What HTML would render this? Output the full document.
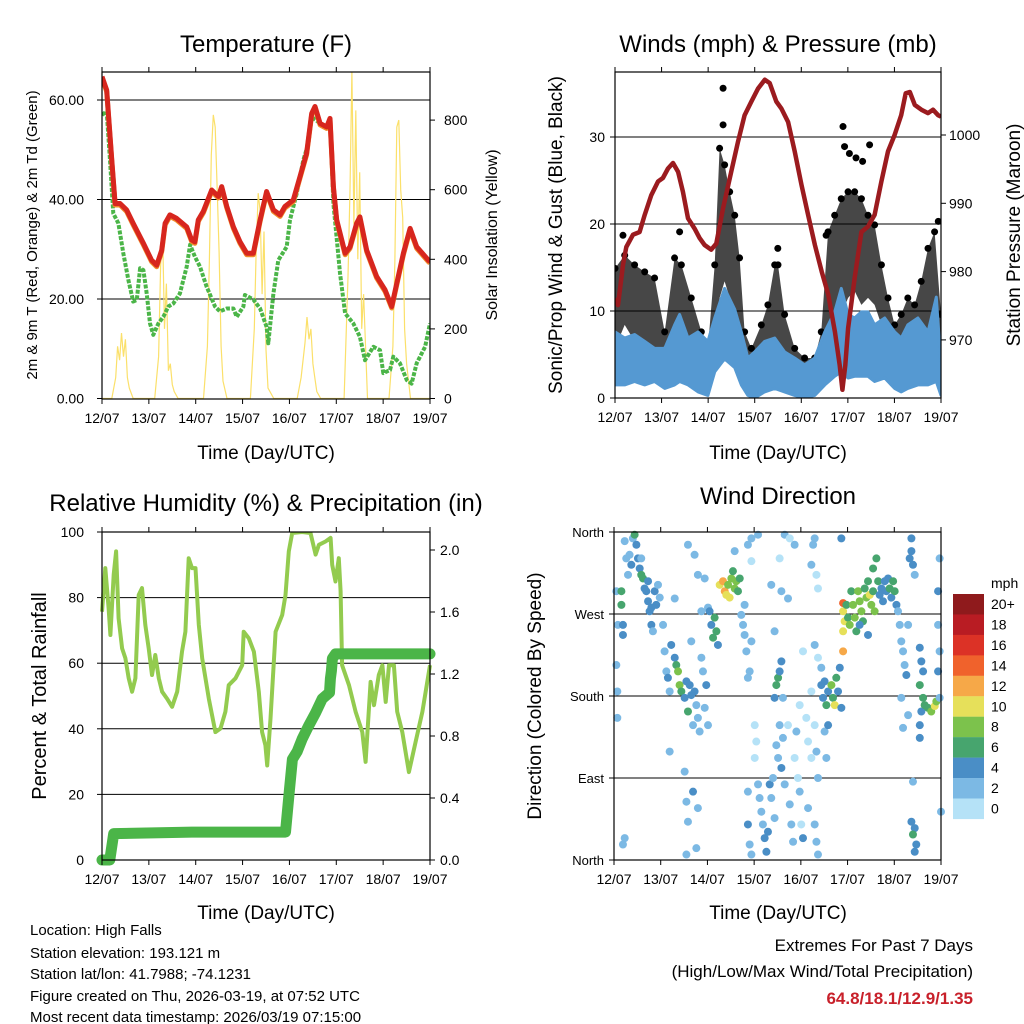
<!DOCTYPE html>
<html><head><meta charset="utf-8"><style>
html,body{margin:0;padding:0;background:#fff;}
svg{display:block;font-family:"Liberation Sans",Arial,sans-serif;}
</style></head><body>
<svg id="chart" width="1024" height="1024" viewBox="0 0 1024 1024" xmlns="http://www.w3.org/2000/svg">
<rect x="0" y="0" width="1024" height="1024" fill="#fff"/>
<text x="266" y="52" font-size="24" text-anchor="middle">Temperature (F)</text>
<text x="778" y="52" font-size="24" text-anchor="middle">Winds (mph) &amp; Pressure (mb)</text>
<text x="266" y="511" font-size="24" text-anchor="middle">Relative Humidity (%) &amp; Precipitation (in)</text>
<text x="778" y="504" font-size="24" text-anchor="middle">Wind Direction</text>
<text x="266" y="459" font-size="19" text-anchor="middle">Time (Day/UTC)</text>
<text x="778" y="459" font-size="19" text-anchor="middle">Time (Day/UTC)</text>
<text x="266" y="919" font-size="19" text-anchor="middle">Time (Day/UTC)</text>
<text x="778" y="919" font-size="19" text-anchor="middle">Time (Day/UTC)</text>
<text transform="translate(37,235) rotate(-90)" font-size="15" text-anchor="middle">2m &amp; 9m T (Red, Orange) &amp; 2m Td (Green)</text>
<text transform="translate(497,235) rotate(-90)" font-size="16" text-anchor="middle">Solar Insolation (Yellow)</text>
<text transform="translate(562,235) rotate(-90)" font-size="19" text-anchor="middle">Sonic/Prop Wind &amp; Gust (Blue, Black)</text>
<text transform="translate(1020,235) rotate(-90)" font-size="19" text-anchor="middle">Station Pressure (Maroon)</text>
<text transform="translate(46,696) rotate(-90)" font-size="20" text-anchor="middle">Percent &amp; Total Rainfall</text>
<text transform="translate(541,696) rotate(-90)" font-size="19" text-anchor="middle">Direction (Colored By Speed)</text>
<g font-size="15">
<text x="30" y="935">Location: High Falls</text>
<text x="30" y="958">Station elevation: 193.121 m</text>
<text x="30" y="979">Station lat/lon: 41.7988; -74.1231</text>
<text x="30" y="1001">Figure created on Thu, 2026-03-19, at 07:52 UTC</text>
<text x="30" y="1022">Most recent data timestamp: 2026/03/19 07:15:00</text>
</g>
<text x="973" y="951" font-size="17" text-anchor="end">Extremes For Past 7 Days</text>
<text x="973" y="977" font-size="17" text-anchor="end">(High/Low/Max Wind/Total Precipitation)</text>
<text x="973" y="1004" font-size="17" font-weight="bold" fill="#c8202a" text-anchor="end">64.8/18.1/12.9/1.35</text>
</svg>
<script>
// ---------- data ----------
const dayLabels = ["12/07","13/07","14/07","15/07","16/07","17/07","18/07","19/07"];
const tempHours = [0,2.4,5,6.7,9.2,12.6,16,21.2,25.4,28,30.6,32.3,34.8,38.2,43.4,45.9,47.6,49.3,51.9,56.2,59.6,61.3,63.9,67.3,70.7,74.1,77.5,81,84.3,87.8,91.2,93.7,98,101.4,104.8,107.4,109.1,111.7,115.1,116.8,118.5,120.2,124.5,127,130.4,132.1,135.6,140.7,145,148.4,151,154.4,157.8,161.2,167.2,168];
const tempValues = [64.7,62,47.9,39.2,39.2,37.9,35.2,31.2,27.8,26.8,29.8,35.2,36.9,36.2,34.5,31.9,31.5,35.9,37.6,41.9,40.6,42.6,38.6,34.5,31.5,29.2,29.2,35.9,41.6,37.9,36.9,38.6,39.9,44.6,49.3,57.3,58.7,55.3,54.6,56.3,42.6,35.9,29.2,30.5,35.2,36.5,29.8,24.5,21.8,18.5,23.2,29.2,34.2,30.5,27.8,27.5];
const dewHours = [0,2.4,4.1,5.8,8.4,10.9,13.5,16,17.8,19.5,21.2,22.9,24.6,26.3,28.9,31.4,34,36.5,39.9,43.4,45.1,47.6,50.2,53.6,57.9,60.4,63.9,67.3,69,72.4,73.2,77.5,81,84.3,85.2,87.8,90.3,94.6,96.3,99.7,103.1,105.7,107.4,111.7,115.1,116.8,118.5,121.9,124.5,128.7,132.1,134.7,139,142.4,144.1,147.5,149.2,152.6,156.1,158.6,161.2,165.5,168];
const dewValues = [57,57.7,47.9,37.2,35.2,29.2,23.8,19.5,19.8,26.2,25.8,21.1,15.1,12.8,15.1,16.4,18.5,19.1,21.1,26.5,30.9,28.5,26.5,22.5,18.5,17.5,18.1,18.1,16.4,18.5,20.8,19.9,18.1,14.4,11.1,21.1,27.8,30.5,35.9,41.2,47.9,51.3,56.6,55.3,54.3,56.3,39.2,25.2,17.1,15.1,12.4,7.7,10.4,9.7,5.1,5.7,8.4,7.1,3.7,3,7.1,10.4,15.1];
const solarHours = [0,5,7,8,9,10,11,12,13,14,16,27,29,30,31,32,33,34,35,36,37,39,52,54,55,56,57,58,59,60,61,62,64,76,78,79,80,81,82,83,84,85,88,100,102,104,105,106,107,108,109,110,112,124,126,127,128,129,130,131,132,133,134,136,147,149,150,151,152,153,154,155,156,158,168];
const solarValues = [0,0,60,150,110,188,120,170,60,30,0,0,120,380,493,200,330,80,100,40,20,0,0,150,400,700,815,780,600,420,150,50,0,0,200,430,590,540,300,480,140,30,0,0,60,160,234,170,200,100,60,20,0,0,350,600,940,500,828,400,650,200,300,0,0,150,400,780,800,600,520,200,100,0,0];
const presHours = [0,1.55,4.1,5.8,9.3,12.7,15.3,18.7,22.2,24.7,27.3,29.9,32.5,35,37.6,41,43.6,46.2,49.6,52.2,55.7,59.9,63.4,66.8,70.3,73.7,77.2,79.7,83.1,85.7,89.2,92.6,96.1,99.5,103,106.5,109.9,113.3,115.8,117.2,118.7,120.1,123.5,127,130.4,133.8,137.3,140.7,144.1,147.5,149.8,151.9,154.5,157.9,161.3,163.9,166.5,168];
const presValues = [976.1,975.1,981,983.6,985.4,985.8,988.3,991.2,993.2,993.7,995.1,995.9,994.6,991.7,987.8,986.3,984.9,983.9,983.2,984.1,989.3,994.6,999,1002.9,1004.9,1006.8,1008.1,1007.6,1004.9,1003.9,1001.9,997.6,992.7,988.3,983.9,980,976.6,971.2,966.3,962.7,966.3,971.7,979,985.8,986.6,988.3,993.2,997.6,1000,1002.9,1006.1,1006.3,1004.4,1003.7,1003.2,1003.7,1002.9,1002.7];
const windHours = [0,5,10.1,15.3,20.4,25.6,30.7,33.3,37.6,42.8,47.9,51.4,56.5,61.7,65.1,68.5,72,77.1,82.3,87.4,92.6,97.7,102.9,108.1,113.2,116.6,120.1,123.5,127,130.4,133.8,139,144.1,147.5,150.9,156.1,161.3,165.6,168];
const windHigh = [7.6,6.9,7.3,6.5,5.7,5.7,8.4,9.6,6.9,7.6,6.5,9.2,12.6,10.2,7.6,4.6,5.3,6.5,6.9,5.3,4.6,3.8,4.6,7.6,9.9,12.6,9.6,9.2,9.9,9.9,8.4,9.2,7.6,6.9,8.4,9.2,7.6,11.6,3.8];
const windLow = [1.5,1.5,1.9,1.5,1.9,1.1,1.5,1.9,1.5,0.7,0.3,3,4.5,3.5,1.5,0.3,0,0.7,1.1,0.7,0.3,0,0.3,1.5,2.5,3,2.3,2.5,2.5,2.5,1.9,2.3,1.1,0.7,1.1,1.5,1.5,1.9,0.3];
const gustHours = [0,5,10.1,15.3,20.4,25.6,30.7,34.2,39.3,44.5,47.9,51.4,53.9,56.5,59.1,61.7,64.2,66.8,70.3,75.4,78.8,82.3,84,87.4,92.6,97.7,102.9,106.3,109.8,113.2,116.6,120.1,123.5,127,130.4,133.8,137.3,140.7,144.1,147.5,150.9,154.4,157.8,161.3,164.7,168];
const gustHigh = [14.9,16.4,15.3,14.5,13.8,7.6,16.1,15.3,11.5,7.6,5.7,15.3,28.7,26.8,23.7,21,16.1,7.6,5.7,8.4,10.7,15.3,15.3,9.6,5.7,4.6,4.6,7.6,19.1,21,22.9,23.7,23.7,22.9,21,19.9,15.3,11.5,8.4,9.6,11.5,10.7,13.4,17.2,19.1,9.6];
const gustLow = [5.7,8.4,6.5,5,4.6,6,5.3,5.7,5.3,4.6,3.8,7.6,11.5,13.4,11.5,7.6,5.7,3.8,1.9,3.8,5.7,6.5,5.7,4.6,2.7,1.9,1.9,3.8,8.4,8.4,9.6,11.5,12.3,10.7,11.5,10.7,8.4,6.9,4.6,5,5.7,5,5.7,7.6,9.6,3.8];
const gustOutHours = [55.7,55.7,117.5,118.3,131.2,120.8,124.2,127.6,4.1,33.3,83.9,108.8,166.6];
const gustOutValues = [35.6,31.4,31.2,28.9,29.1,28.1,27.6,27.2,18.7,19.1,17.2,18.7,20.3];
const rhHours = [0,1.7,3.4,4.3,6,7.2,8.5,10.3,12,13.7,15.4,17.1,18.8,20.5,22.2,23.9,25.6,27.3,29.1,30.8,33.3,35.9,38.5,41,42.7,44.4,46.1,47.9,49.6,51.3,54.7,58.1,60.7,63.2,64.9,68.4,71.8,72.6,75.2,77.8,80.3,82,83.7,84.6,86.3,88.9,92.3,94,95.7,97.4,102.5,106.8,109.4,111.1,114.5,117.1,117.9,119.6,121.3,122.2,123,126.5,129.9,133.3,135,137.6,139.3,141.8,143.6,145.3,147,149.5,151.2,153.8,157.2,160.6,164.1,168];
const rhValues = [75.7,89,76.8,68.6,87,94.1,73.7,64.5,61.5,55.4,51.3,55.4,80.8,82.9,71.7,64.5,56.4,62.5,55.4,51.3,49.2,46.7,51.3,63.5,69.6,92,89,89,71.7,61.5,49.2,39,40.1,45.2,53.3,55.4,59.4,69.6,67.6,63.5,51.3,39,35,28.8,43.1,69.6,74.7,80.8,94.1,99.7,100,99.7,93.1,96.1,97.1,98.2,90,84.9,92,81.9,59.4,53.3,45.2,39,29.9,54.3,47.2,56.4,59.4,48.2,59.4,59.4,45.2,39,26.8,36,45.2,59.4];
const precipHours = [0,4,6,46,94,96,97.5,100,102.5,106,109.4,112.8,116.5,117,117.5,118,119.6,168];
const precipValues = [0,0,0.17,0.18,0.18,0.45,0.65,0.7,0.78,0.87,0.95,1.04,1.08,1.17,1.22,1.3,1.33,1.33];
const dirHours = [1.2,2,1.2,1.7,1.7,3.8,3.8,4.6,4.6,5.5,6.3,7.2,8,8.9,9.7,10.6,11.5,12.3,13.2,14,14.9,15.7,16.6,17.5,18.3,19.2,20,20.9,21.7,22.6,23.5,4.6,5.5,19.2,17.5,14,
25.2,26,26.9,27.7,28.6,29.4,31.2,32,32.9,33.7,34.6,36.3,37.2,38,38.9,39.7,40.6,41.4,42.3,43.1,44,44.9,45.7,46.6,47.4,48.3,28.6,36.3,37.2,38,40.6,43.1,42.3,31.2,38,41.4,43.1,46.6,44.9,48.3,39.7,37.2,
49.1,50,50.9,51.7,52.6,53.4,54.3,56,56.9,57.7,58.6,59.4,60.3,61.1,62,62.8,63.7,64.6,65.4,66.3,67.1,68,68.8,69.7,70.6,68.8,70.6,67.1,72.3,73.1,72.3,70.6,62,
68.8,68.8,69.7,70.6,74,74.8,75.7,76.5,77.4,78.3,79.1,80,80.8,81.7,82.5,83.4,84.3,85.1,86,86.8,87.7,89.4,90.3,91.1,92,92.8,93.7,94.5,95.4,96.2,97.1,82.5,83.4,84.3,85.1,86,86.8,87.7,90.3,92.8,82.5,86,89.4,85.1,80.8,74,
99.7,101.4,98.8,103.1,104,104.8,99.7,103.1,104,104.8,106.5,107.4,108.2,109.1,110,111.7,112.5,113.4,114.2,115.1,116,116.8,108.2,110,109.1,106.5,102.3,103.1,104,104.8,101.4,103.1,104.8,101.4,95.4,97.1,
117.7,117.7,118.5,117.7,119.4,120.2,121.1,121.9,122.8,123.7,124.5,125.4,126.2,127.1,127.9,128.8,129.7,130.5,131.4,132.2,133.1,133.9,134.8,133.1,135.7,136.5,137.4,138.2,139.1,139.9,140.8,141.6,142.5,143.4,144.2,145.1,116.8,117.7,130.5,126.2,
145.9,146.8,147.6,148.5,149.3,150.2,151.1,151.9,152.8,153.6,154.5,152.8,147.6,148.5,151.1,157.1,157.9,158.8,157.1,158.8,157.9,159.6,161.3,163,164.8,165.6,157.1,157.1,153.6,152.8,154.5,153.6,155.3,154.5,166.5,166.5,167.3,167.3,166.5,167.3,168];
const dirValues = [295,258,214,185,156,295,280,258,247,350,331,313,335,324,353,357,346,331,320,313,309,298,295,284,273,258,251,295,280,302,288,17,24,277,306,331,
258,229,207,200,185,236,222,214,207,192,185,178,196,163,192,181,148,185,170,156,141,222,207,167,192,148,119,97,64,42,75,57,13,287,346,335,313,309,273,277,240,6,
273,258,244,266,251,236,302,306,295,291,302,288,309,317,298,306,295,309,269,258,247,229,200,207,240,346,328,280,148,130,112,353,339,
75,39,17,6,83,68,53,39,24,9,31,83,68,90,46,126,112,148,101,134,83,148,61,39,20,112,141,90,75,39,24,178,192,200,207,218,178,357,353,346,251,295,287,331,302,357,
130,112,156,148,119,90,57,39,20,6,192,178,196,170,185,192,178,170,200,185,211,167,141,148,112,211,346,353,313,298,324,236,222,185,170,229,
282,273,262,251,280,266,258,295,280,266,251,295,284,273,262,298,288,306,291,280,295,273,331,320,306,291,298,284,306,295,309,298,288,306,295,280,353,229,247,258,
273,258,240,229,214,203,258,331,339,324,313,353,178,145,159,233,218,207,192,178,163,170,167,163,169,174,148,134,86,42,35,28,17,9,295,258,331,229,207,178,53];
const dirSpeeds = [3,2,3,2,2,6,6,4,5,3,2,2,3,4,3,6,4,5,5,7,6,4,4,4,4,4,3,4,4,3,3,3,2,4,4,2,
3,3,3,4,2,4,4,7,8,8,7,4,4,6,4,4,3,4,3,2,2,2,3,3,4,3,2,3,2,2,4,2,2,2,2,3,2,3,2,3,3,3,
5,4,6,6,7,5,10,13,12,10,9,10,8,7,9,8,7,6,3,2,3,3,2,3,2,2,1,3,1,1,1,2,2,
3,4,3,2,3,3,2,3,4,5,4,4,3,2,3,3,3,2,4,2,2,1,2,2,3,1,2,1,2,1,4,4,6,6,4,4,3,2,1,2,2,2,2,1,2,2,
1,1,1,1,2,2,2,3,3,2,4,5,4,6,4,8,7,10,6,4,4,4,3,4,3,3,2,2,1,1,2,2,1,1,1,1,
14,10,10,10,7,6,8,7,8,8,6,8,9,8,6,7,8,7,10,8,7,9,6,6,6,5,4,4,5,4,4,6,5,6,6,4,4,13,4,5,
3,2,3,3,3,4,3,4,4,4,3,4,2,2,3,4,4,5,6,6,4,6,7,9,10,9,4,4,3,4,4,7,4,4,4,3,2,3,4,3,2];
const speedLabels = ["20+","18","16","14","12","10","8","6","4","2","0"];
const speedColors = ["#8f1a1c","#b91c23","#dc3226","#f0622c","#f6a848","#e6e05a","#7cc24c","#47a56e","#4a8ec6","#7cb9e4","#b5e2f7"];
const tempTicks = [0,20,40,60];
const solarTicks = [0,200,400,600,800];
const windTicks = [0,10,20,30];
const presTicks = [970,980,990,1000];
const rhTicks = [0,20,40,60,80,100];
const precipTicks = [0,0.4,0.8,1.2,1.6,2.0];
const dirTicks = [0,90,180,270,360];
const dirLabels = ["North","East","South","West","North"];

// ---------- helpers ----------
const NS = "http://www.w3.org/2000/svg";
const svg = document.getElementById("chart");
function mk(tag, attrs, parent) {
  const el = document.createElementNS(NS, tag);
  for (const k in attrs) el.setAttribute(k, attrs[k]);
  (parent || svg).appendChild(el);
  return el;
}
function grp(name) {
  const g = mk("g", {});
  
  
  return g;
}
function pathFrom(xs, ys) {
  return xs.map((x, i) => (i ? "L" : "M") + x.toFixed(1) + "," + ys[i].toFixed(1)).join("");
}
function xAxis(g, P, xf, prefix) {
  for (let d = 0; d <= 7; d++) {
    const x = xf(d * 24);
    const t1 = mk("line", {x1: x, x2: x, y1: P.b, y2: P.b + 5, stroke: "#000", "stroke-width": 1}, g);
    
    
    const t2 = mk("line", {x1: x, x2: x, y1: P.t, y2: P.t - 5, stroke: "#000", "stroke-width": 1}, g);
    
    
    const lb = mk("text", {x: x, y: P.b + 24, "font-size": 14, "text-anchor": "middle"}, g);
    lb.textContent = dayLabels[d];
    
    
  }
}
function yAxis(g, P, ticks, yf, side, fmt, grid, prefix, fs, off) {
  ticks.forEach(v => {
    const y = yf(v);
    if (grid && y > P.t + 1 && y < P.b - 1) {
      const gl = mk("line", {x1: P.l, x2: P.r, y1: y, y2: y, stroke: "#000", "stroke-width": 1}, g);
      
      
    }
    const x0 = side === "left" ? P.l : P.r;
    const dx = side === "left" ? -5 : 5;
    const tk = mk("line", {x1: x0, x2: x0 + dx, y1: y, y2: y, stroke: "#000", "stroke-width": 1}, g);
    
    
    const o = off || 10;
    const lb = mk("text", {x: side === "left" ? P.l - o : P.r + o, y: y + 5, "font-size": fs || 14, "text-anchor": side === "left" ? "end" : "start"}, g);
    lb.textContent = fmt(v);
    
    
  });
}
function frame(g, P, name) {
  const f = mk("rect", {x: P.l, y: P.t, width: P.r - P.l, height: P.b - P.t, fill: "none", stroke: "#000", "stroke-width": 1.2}, g);
  
  
}
function clip(id, P) {
  const d = mk("defs", {});
  const c = mk("clipPath", {id: id}, d);
  mk("rect", {x: P.l, y: P.t, width: P.r - P.l, height: P.b - P.t}, c);
}

// ---------- panel 1: temperature ----------
const P1 = {l: 102, r: 430, t: 72, b: 399};
const x1 = t => P1.l + t / 168 * (P1.r - P1.l);
const y1 = v => 398.5 - v * 4.975;
const y1s = s => 398.5 - s * 0.348;
clip("c1", P1);
const g1 = grp("temperature-panel");
yAxis(g1, P1, tempTicks, y1, "left", v => v.toFixed(2), true, "temp", 14, 18);
yAxis(g1, P1, solarTicks, y1s, "right", v => String(v), false, "solar", 14, 14);
const g1d = mk("g", {"clip-path": "url(#c1)"}, g1);
const solar = mk("path", {d: pathFrom(solarHours.map(x1), solarValues.map(y1s)), fill: "none", stroke: "#fbe06a", "stroke-width": 1.2}, g1d);


const dew = mk("path", {d: pathFrom(dewHours.map(x1), dewValues.map(y1)), fill: "none", stroke: "#4bb548", "stroke-width": 4, "stroke-dasharray": "4 1.5", "stroke-linejoin": "round"}, g1d);


const t9 = mk("path", {d: pathFrom(tempHours.map(x1), tempValues.map(v => y1(v) + 1.5)), fill: "none", stroke: "#f08a2a", "stroke-width": 5, "stroke-linejoin": "round"}, g1d);


const t2 = mk("path", {d: pathFrom(tempHours.map(x1), tempValues.map(y1)), fill: "none", stroke: "#d7261e", "stroke-width": 5, "stroke-linejoin": "round"}, g1d);


xAxis(g1, P1, x1, "temp");
frame(g1, P1, "temperature-plot-frame");

// ---------- panel 2: winds ----------
const P2 = {l: 615, r: 941, t: 72, b: 398};
const x2 = t => P2.l + t / 168 * (P2.r - P2.l);
const y2 = w => 398 - w * 8.7;
const y2p = p => 135 + (1000 - p) * 6.83;
clip("c2", P2);
const g2 = grp("winds-panel");
yAxis(g2, P2, windTicks, y2, "left", v => String(v), true, "wind");
yAxis(g2, P2, presTicks, y2p, "right", v => String(v), false, "pressure", 14, 8);
const g2d = mk("g", {"clip-path": "url(#c2)"}, g2);
const gustPts = gustHours.map(x2).map((x, i) => x.toFixed(1) + "," + y2(gustHigh[i]).toFixed(1));
const gustPtsLow = gustHours.map(x2).map((x, i) => x.toFixed(1) + "," + y2(gustLow[i]).toFixed(1)).reverse();
const gband = mk("polygon", {points: gustPts.concat(gustPtsLow).join(" "), fill: "#000", "fill-opacity": 0.72, stroke: "none"}, g2d);


gustHours.forEach((h, i) => {
  const c = mk("circle", {cx: x2(h), cy: y2(gustHigh[i]), r: 3.5, fill: "#000"}, g2d);
  
  
});
gustOutHours.forEach((h, i) => {
  const c = mk("circle", {cx: x2(h), cy: y2(gustOutValues[i]), r: 3.5, fill: "#000"}, g2d);
  
  
});
const wPts = windHours.map(x2).map((x, i) => x.toFixed(1) + "," + y2(windHigh[i]).toFixed(1));
const wPtsLow = windHours.map(x2).map((x, i) => x.toFixed(1) + "," + y2(windLow[i]).toFixed(1)).reverse();
const wband = mk("polygon", {points: wPts.concat(wPtsLow).join(" "), fill: "#5599d2", stroke: "#5599d2", "stroke-width": 3, "stroke-linejoin": "round"}, g2d);


const pres = mk("path", {d: pathFrom(presHours.map(x2), presValues.map(y2p)), fill: "none", stroke: "#9b1b1f", "stroke-width": 4.5, "stroke-linejoin": "round"}, g2d);


xAxis(g2, P2, x2, "wind");
frame(g2, P2, "winds-plot-frame");

// ---------- panel 3: humidity ----------
const P3 = {l: 102, r: 430, t: 532, b: 860};
const x3 = t => P3.l + t / 168 * (P3.r - P3.l);
const y3 = v => 860 - v * 3.28;
const y3p = v => 860 - v * 155;
clip("c3", {l: P3.l - 8, r: P3.r + 8, t: P3.t, b: P3.b + 8});
const g3 = grp("humidity-panel");
yAxis(g3, P3, rhTicks, y3, "left", v => String(v), true, "rh", 14, 18);
yAxis(g3, P3, precipTicks, y3p, "right", v => v.toFixed(1), false, "precip");
const g3d = mk("g", {"clip-path": "url(#c3)"}, g3);
const rh = mk("path", {d: pathFrom(rhHours.map(x3), rhValues.map(y3)), fill: "none", stroke: "#93cb4f", "stroke-width": 4, "stroke-linejoin": "round"}, g3d);


const pr = mk("path", {d: pathFrom(precipHours.map(x3), precipValues.map(y3p)), fill: "none", stroke: "#4bb548", "stroke-width": 11, "stroke-linejoin": "round", "stroke-linecap": "round"}, g3d);


xAxis(g3, P3, x3, "rh");
frame(g3, P3, "humidity-plot-frame");

// ---------- panel 4: wind direction ----------
const P4 = {l: 614, r: 941, t: 532, b: 860};
const x4 = t => P4.l + t / 168 * (P4.r - P4.l);
const y4 = d => 860 - d / 360 * 328;
function speedColor(s) {
  const idx = Math.min(10, Math.floor(s / 2));
  return speedColors[10 - idx];
}
clip("c4", {l: P4.l - 4, r: P4.r + 4, t: P4.t - 4, b: P4.b + 4});
const g4 = grp("wind-direction-panel");
yAxis(g4, P4, dirTicks, y4, "left", v => dirLabels[dirTicks.indexOf(v)], true, "direction", 13, 10);
const g4d = mk("g", {"clip-path": "url(#c4)"}, g4);
dirHours.forEach((h, i) => {
  const c = mk("circle", {cx: x4(h), cy: y4(dirValues[i]), r: 4, fill: speedColor(dirSpeeds[i])}, g4d);
  
  
});
xAxis(g4, P4, x4, "direction");
frame(g4, P4, "direction-plot-frame");

// ---------- colorbar ----------
const gl = grp("speed-colorbar");
const unit = mk("text", {x: 991, y: 588, "font-size": 14}, gl);
unit.textContent = "mph";


speedLabels.forEach((lab, i) => {
  const y = 594 + i * 20.45;
  const r = mk("rect", {x: 953, y: y, width: 31, height: 20.6, fill: speedColors[i]}, gl);
  
  
  const t = mk("text", {x: 991, y: y + 15, "font-size": 14}, gl);
  t.textContent = lab;
  
  
});
</script>
</body></html>
